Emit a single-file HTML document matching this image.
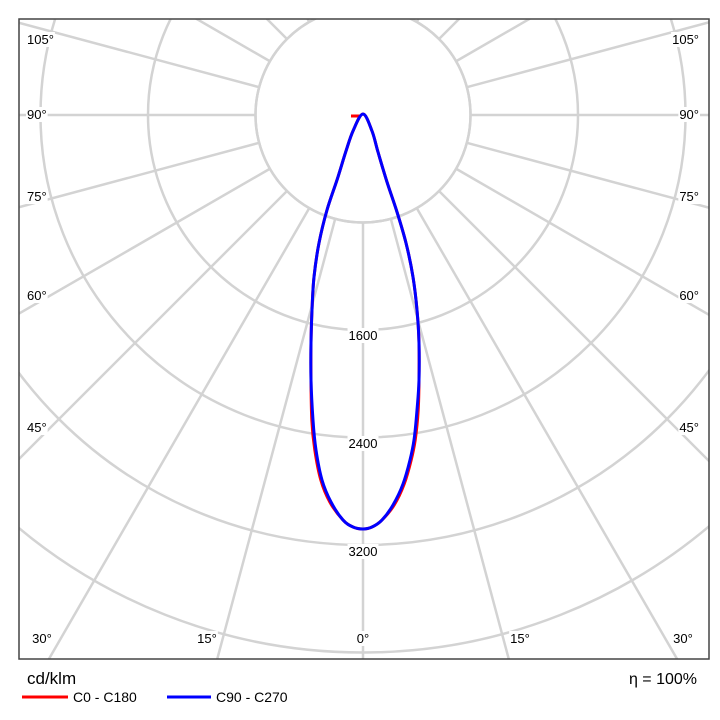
<!DOCTYPE html>
<html><head><style>
html,body{margin:0;padding:0;background:#fff;width:720px;height:720px;overflow:hidden}
svg{display:block}
svg text{font-family:"Liberation Sans",sans-serif;fill:#000}
</style></head><body>
<svg id="s" width="720" height="720" xmlns="http://www.w3.org/2000/svg">
<defs><clipPath id="c"><rect x="19" y="19" width="690" height="640"/></clipPath></defs>
<g id="grid" clip-path="url(#c)" stroke="#d3d3d3" stroke-width="2.5" fill="none"></g>
<g id="curves" clip-path="url(#c)" fill="none" stroke-width="3" stroke-linejoin="round">
<path stroke="#f00" d="M351,116 L360,116"/>
</g>
<rect x="19" y="19" width="690" height="640" fill="none" stroke="#444" stroke-width="1.5"/>
<g font-size="13" id="lbl"></g>
<text x="27" y="684" font-size="17">cd/klm</text>
<text x="697" y="684" font-size="16" text-anchor="end">η = 100%</text>
<line x1="22" y1="697" x2="68" y2="697" stroke="#f00" stroke-width="3"/>
<text x="73" y="702" font-size="14">C0 - C180</text>
<line x1="167" y1="697" x2="211" y2="697" stroke="#00f" stroke-width="3"/>
<text x="216" y="702" font-size="14">C90 - C270</text>
</svg>
<script>
var NS="http://www.w3.org/2000/svg",cx=363,cy=115,u=107.5;
function el(p,t,a){var e=document.createElementNS(NS,t);for(var k in a)e.setAttribute(k,a[k]);p.appendChild(e);return e;}
var g=document.getElementById('grid');
for(var i=-12;i<=12;i++){var a=i*15*Math.PI/180;
 el(g,'line',{x1:cx+u*Math.sin(a),y1:cy+u*Math.cos(a),x2:cx+900*Math.sin(a),y2:cy+900*Math.cos(a)});}
for(var k=1;k<=8;k++)el(g,'circle',{cx:cx,cy:cy,r:u*k});
el(g,'circle',{cx:cx,cy:cy,r:u-1.5,fill:'#fff',stroke:'none'});
el(g,'circle',{cx:cx,cy:cy,r:u});
var L=document.getElementById('lbl');
function t(x,y,s,anc){var e=el(L,'text',{x:x,y:y,'text-anchor':anc||'middle'});e.textContent=s;
 var b=e.getBBox();var r=document.createElementNS(NS,'rect');r.setAttribute('x',b.x-1);r.setAttribute('y',b.y);r.setAttribute('width',b.width+2);r.setAttribute('height',b.height);r.setAttribute('fill','#fff');L.insertBefore(r,e);}
[[44,"105°"],[119,"90°"],[201,"75°"],[300,"60°"],[432,"45°"]].forEach(function(p){t(27,p[0],p[1],'start');t(699,p[0],p[1],'end');});
t(42,643,"30°");t(207,643,"15°");t(363,643,"0°");t(520,643,"15°");t(683,643,"30°");
t(363,340,"1600");t(363,448,"2400");t(363,556,"3200");
var P=[[363,114],[353,131],[346,151],[337,180],[327,210],[319,243],[314,277],[312,310],[311,343],[311,380],[313,420],[316,450],[322,480],[331,502],[343,520],[353,527],[363,529],[372,527],[382,520],[393,505],[403,484],[410,460],[414,440],[417,410],[419,380],[419,343],[417,310],[413,277],[406,243],[397,212],[387,182],[378,152],[372,131]];
function cr(pts,dx){var n=pts.length,d="";
 function p(i){var q=pts[(i+n)%n];return [q[0]+(dx?dx(q):0),q[1]];}
 d="M"+p(0).join(",");
 for(var i=0;i<n;i++){var p0=p(i-1),p1=p(i),p2=p(i+1),p3=p(i+2);
  var c1=[p1[0]+(p2[0]-p0[0])/6,p1[1]+(p2[1]-p0[1])/6],c2=[p2[0]-(p3[0]-p1[0])/6,p2[1]-(p3[1]-p1[1])/6];
  d+="C"+c1.map(function(v){return v.toFixed(1)}).join(",")+" "+c2.map(function(v){return v.toFixed(1)}).join(",")+" "+p2.map(function(v){return v.toFixed(1)}).join(",");}
 return d+"Z";}
var C=document.getElementById('curves');
el(C,'path',{stroke:'#f00',d:cr(P,function(q){return q[1]>400&&q[1]<520?(q[0]<363?-1.2:1.2):0;})});
el(C,'path',{stroke:'#00f',d:cr(P)});
</script>
</body></html>
